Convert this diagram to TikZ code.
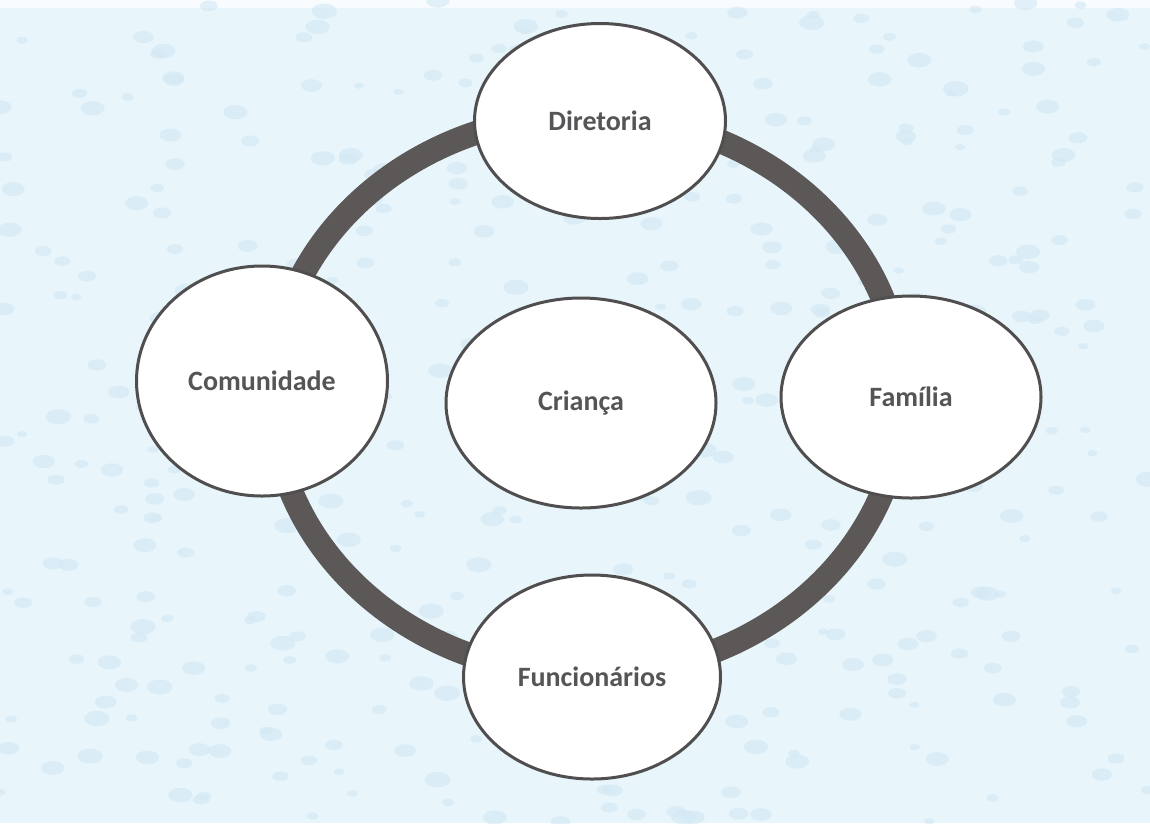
\documentclass[tikz,border=0pt]{standalone}
\usepackage{fontspec}
\setmainfont{Carlito}
\usetikzlibrary{shapes.geometric}
\definecolor{bgblue}{RGB}{232,246,252}
\definecolor{dropblue}{RGB}{210,232,245}
\definecolor{ringgray}{RGB}{92,88,88}
\definecolor{edgegray}{RGB}{80,78,78}
\definecolor{textgray}{RGB}{85,85,88}
\tikzset{
  bubble/.style={ellipse, draw=edgegray, line width=3pt, fill=white, inner sep=0pt,
    text=textgray, font=\fontsize{28}{32}\selectfont\bfseries},
  ringline/.style={draw=ringgray, line width=24pt},
  drop/.style={fill=dropblue, opacity=0.6}
}
\begin{document}
\begin{tikzpicture}[x=1pt, y=-1pt]
\useasboundingbox (0,0) rectangle (1150,823);
\fill[bgblue] (0,0) rectangle (1150,823);
\fill[white!70!bgblue] (0,0) rectangle (1150,8);
\pgfmathsetseed{7}
\foreach \i in {1,...,420}{
  \pgfmathsetmacro{\px}{rnd*1150}
  \pgfmathsetmacro{\py}{rnd*823}
  \pgfmathsetmacro{\rr}{5+rnd*8}
  \fill[drop] (\px,\py) ellipse [x radius=\rr pt, y radius=0.6*\rr pt];
}
\coordinate (ringc) at (587,395);
\draw[ringline] (ringc) ellipse [x radius=315pt, y radius=280pt];
\node[bubble, minimum width=251pt, minimum height=195pt] (dir) at (600,121) {Diretoria};
\node[bubble, minimum width=251pt, minimum height=230pt] (com) at (262,381) {Comunidade};
\node[bubble, minimum width=260pt, minimum height=202pt] (fam) at (911,397) {Família};
\node[bubble, minimum width=257pt, minimum height=204pt] (fun) at (592,677) {Funcionários};
\node[bubble, minimum width=270pt, minimum height=210pt] (cri) at (581,403) {Criança};
\end{tikzpicture}
\end{document}
